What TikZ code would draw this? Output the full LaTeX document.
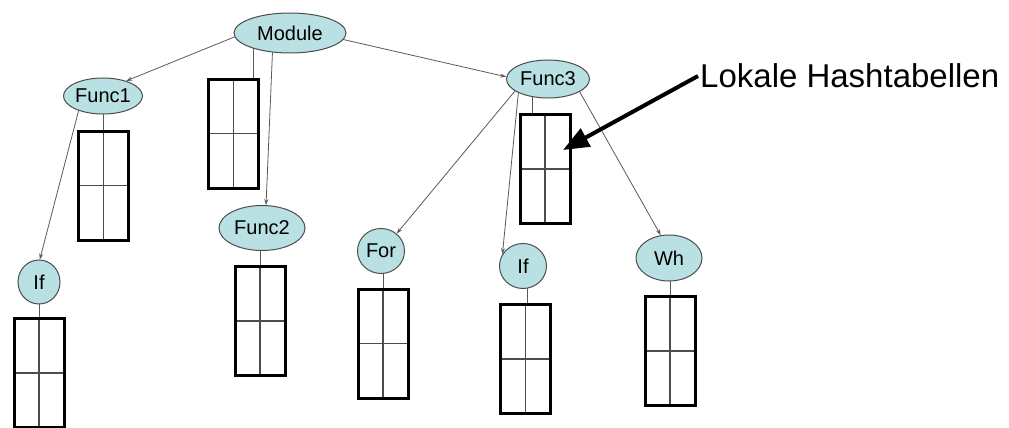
\documentclass[tikz,border=0pt]{standalone}
\usepackage{fontspec}
\setmainfont{Liberation Sans}
\usetikzlibrary{shapes.geometric,arrows.meta,backgrounds}
\definecolor{knotenfarbe}{HTML}{B9E1E3}
\begin{document}
\begin{tikzpicture}[
            x=1pt, y=-1pt,
            knoten/.style={ellipse, draw=gray!60!black, fill=knotenfarbe, line width=1pt, inner sep=0pt,
                font=\fontsize{20}{22}\selectfont},
            tabelle/.style={draw, line width=3pt, minimum width=50pt, minimum height=109pt, inner sep=0pt,
                path picture={\draw[line width=1.3pt, black!70]
                    (path picture bounding box.north) -- (path picture bounding box.south)
                    (path picture bounding box.west) -- (path picture bounding box.east);}},
            kante/.style={draw=gray!70!black, line width=0.8pt, -{Stealth[length=6pt,width=4pt]}},
            stiel/.style={draw=gray!70!black, line width=1pt},
            pfeil/.style={line width=4pt, -{Triangle[length=26pt,width=20pt]}}
        ]
        \useasboundingbox (0,0) rectangle (1009,428);
        \node[knoten, minimum width=112pt, minimum height=40pt] (module) at (290,33) {Module};
        \node[knoten, minimum width=79pt, minimum height=36pt] (func1) at (103,96) {Func1};
        \node[knoten, minimum width=83pt, minimum height=38pt] (func3) at (548,79) {Func3};
        \node[knoten, minimum width=86pt, minimum height=45pt] (func2) at (262,228) {Func2};
        \node[knoten, minimum width=47pt, minimum height=45pt] (for) at (381,251) {For};
        \node[knoten, minimum width=42pt, minimum height=44pt] (ifA) at (39,282) {If};
        \node[knoten, minimum width=47pt, minimum height=45pt] (ifB) at (523,266) {If};
        \node[knoten, minimum width=66pt, minimum height=46pt] (wh) at (669,258) {Wh};
        \node[tabelle] (tmodule) at (233.5,133.5) {};
        \node[tabelle] (tfunc1) at (103.5,185.5) {};
        \node[tabelle] (tifA) at (39,373) {};
        \node[tabelle] (tfunc2) at (260,321) {};
        \node[tabelle] (tfor) at (383,343.5) {};
        \node[tabelle] (tfunc3) at (545,169) {};
        \node[tabelle] (tifB) at (525.5,359) {};
        \node[tabelle] (twh) at (670,351) {};
        \node[anchor=west, inner sep=0pt, font=\fontsize{33}{36}\selectfont] (hash) at (700,76) {Lokale Hashtabellen};
        \coordinate (ziel) at (563,150);
        \begin{scope}[on background layer]
            \draw[stiel] ([xshift=20pt]tmodule.north) -- ([xshift=20pt]tmodule.north |- module.center);
            \draw[stiel] (tfunc1.north) -- (tfunc1.north |- func1.center);
            \draw[stiel] (tifA.north) -- (tifA.north |- ifA.center);
            \draw[stiel] (tfunc2.north) -- (tfunc2.north |- func2.center);
            \draw[stiel] (tfor.north) -- (tfor.north |- for.center);
            \draw[stiel] ([xshift=-13pt]tfunc3.north) -- ([xshift=-13pt]tfunc3.north |- func3.center);
            \draw[stiel] ([xshift=1.5pt]tifB.north) -- ([xshift=1.5pt]tifB.north |- ifB.center);
            \draw[stiel] (twh.north) -- (twh.north |- wh.center);
        \end{scope}
        \draw[kante] (module.184) -- (func1.33);
        \draw[kante] (module.228) -- (func2.80);
        \draw[kante] (module.-7) -- (func3.177);
        \draw[kante] (func1.211) -- (ifA.88);
        \draw[kante] (func3.200) -- (for.48);
        \draw[kante] (func3.205) -- (ifB.150);
        \draw[kante] (func3.-22) -- (wh.110);
        \draw[pfeil] ([xshift=-2pt]hash.west) -- (ziel);
    \end{tikzpicture}
\end{document}
